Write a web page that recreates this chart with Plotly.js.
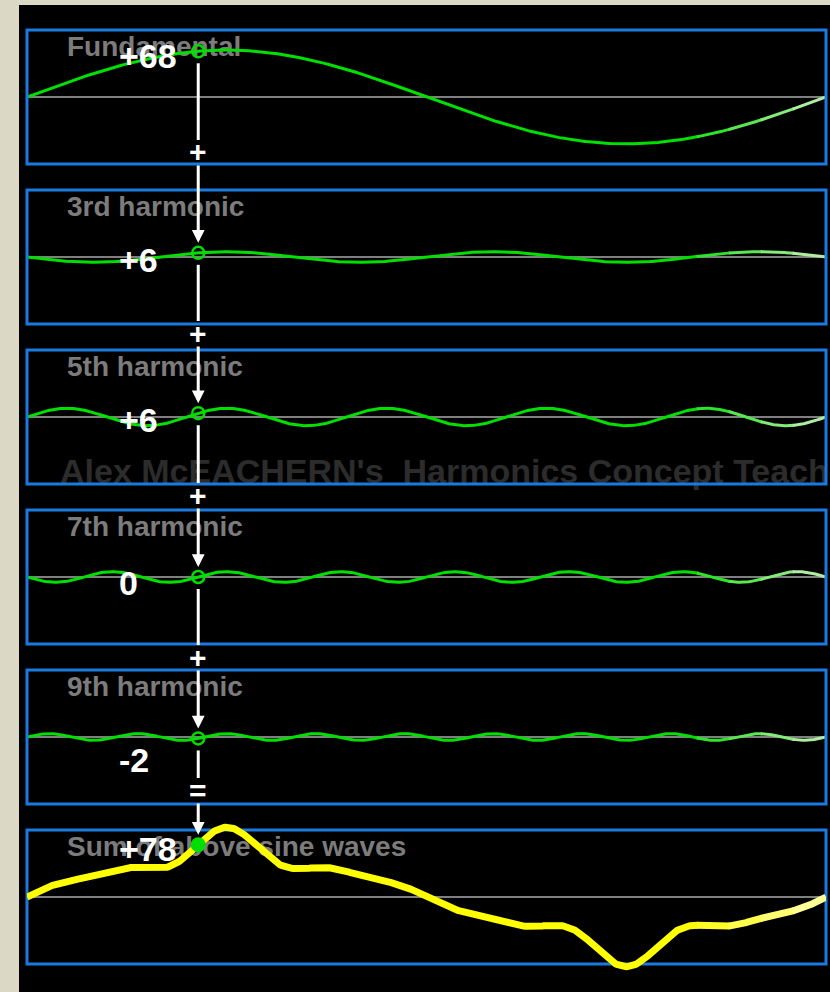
<!DOCTYPE html>
<html><head><meta charset="utf-8">
<script src="https://cdn.plot.ly/plotly-3.0.1.min.js"></script>
<style>html,body{margin:0;padding:0;background:#DCD8C6;overflow:hidden}#chart{width:830px;height:992px}</style>
</head><body><div id="chart"></div>
<script>
// ---------------- data ----------------
const panelTitles = ['Fundamental', '3rd harmonic', '5th harmonic', '7th harmonic', '9th harmonic', 'Sum of above sine waves'];
const harmonicOrders = [1, 3, 5, 7, 9];
const harmonicAmplitudes = [70, 8, 13, 8, 5];      // percent of panel half-height
const harmonicPhasesDeg = [0, 180, 0, 180, 0];     // phase relative to fundamental
const cursorPosition = 0.2143;                     // fraction of one fundamental cycle
const separatorSigns = ['+', '+', '+', '+', '='];
const watermarkText = "Alex McEACHERN's  Harmonics Concept Teacher";
const sampleCount = 601;

// ---------------- layout geometry (pixels) ----------------
const W = 830, H = 992;
const PX_L = 27, PX_R = 826;
const TOP0 = 30, PITCH = 160, PANEL_H = 134;
const UNIT = 0.67;             // px per unit
const YR = 115;                // axis half range (units)
const sepY = [152, 333, 495, 657, 790];
const valueLabelY = [56, 260, 420, 583, 760, 849];
const FONT = 'Liberation Sans, Arial, sans-serif';

const GREEN = [0, 224, 0], GREEN_PALE = [175, 238, 160];
const YELLOW = [255, 255, 0], YELLOW_PALE = [255, 255, 150];

const px = x => x / W;
const py = y => 1 - y / H;
const topOf = k => TOP0 + PITCH * k;
const ctrOf = k => topOf(k) + PANEL_H / 2;
const pixOfVal = (k, v) => ctrOf(k) - v * UNIT;

function harmonic(i, t) {
  return harmonicAmplitudes[i] * Math.sin(2 * Math.PI * harmonicOrders[i] * t + harmonicPhasesDeg[i] * Math.PI / 180);
}
const tSamples = Array.from({length: sampleCount}, (_, i) => i / (sampleCount - 1));
const waves = harmonicOrders.map((_, i) => tSamples.map(t => harmonic(i, t)));
waves.push(tSamples.map((_, j) => waves.reduce((s, w) => s + w[j], 0)));
const cursorValues = harmonicOrders.map((_, i) => harmonic(i, cursorPosition));
cursorValues.push(cursorValues.reduce((a, b) => a + b, 0));
const fmt = v => { const r = Math.round(v); return r === 0 ? '0' : (r > 0 ? '+' + r : String(r)); };

const yId = k => (k === 0 ? 'y' : 'y' + (k + 1));
const yKey = k => (k === 0 ? 'yaxis' : 'yaxis' + (k + 1));

const mix = (a, b, f) => 'rgb(' + a.map((c, i) => Math.round(c + (b[i] - c) * f)).join(',') + ')';
const fadeBreaks = [0, 0.84, 0.88, 0.92, 0.96, 1.0001];

const traces = [];
const layout = {
  width: W, height: H, margin: {l: 0, r: 0, t: 0, b: 0},
  paper_bgcolor: '#DCD8C6', plot_bgcolor: 'rgba(0,0,0,0)',
  showlegend: false, hovermode: false,
  xaxis: {domain: [px(PX_L), px(PX_R)], range: [0, 1], visible: false, fixedrange: true},
  shapes: [], annotations: []
};

layout.shapes.push({type: 'rect', xref: 'paper', yref: 'paper', x0: px(19), x1: 1, y0: 0, y1: py(5),
  fillcolor: '#000000', line: {width: 0}, layer: 'below'});

for (let k = 0; k < 6; k++) {
  const c = ctrOf(k);
  layout[yKey(k)] = {
    domain: [py(c + YR * UNIT), py(c - YR * UNIT)], range: [-YR, YR], anchor: 'x',
    showgrid: false, showticklabels: false, ticks: '', showline: false,
    zeroline: true, zerolinecolor: '#7f7f7f', zerolinewidth: 2, fixedrange: true
  };
  // panel title (drawn under the wave)
  traces.push({type: 'scatter', mode: 'text', xaxis: 'x', yaxis: yId(k),
    x: [(67 - PX_L) / (PX_R - PX_L)], y: [(c - (topOf(k) + 19)) / UNIT],
    text: [panelTitles[k]], textposition: 'middle right', cliponaxis: false,
    textfont: {family: FONT, size: 28, color: '#7c7c7c', weight: 700}, hoverinfo: 'skip'});
  if (k === 2) {
    traces.push({type: 'scatter', mode: 'text', xaxis: 'x', yaxis: yId(k),
      x: [(60 - PX_L) / (PX_R - PX_L)], y: [(c - 475) / UNIT],
      text: [watermarkText], textposition: 'middle right', cliponaxis: false,
      textfont: {family: FONT, size: 34, color: '#2c2c2c', weight: 700}, hoverinfo: 'skip'});
  }
  // waveform, fading to a paler colour at the right end
  const isSum = k === 5;
  const base = isSum ? YELLOW : GREEN, pale = isSum ? YELLOW_PALE : GREEN_PALE;
  for (let s = 0; s < fadeBreaks.length - 1; s++) {
    const xs = [], ys = [];
    tSamples.forEach((t, j) => { if (t >= fadeBreaks[s] - 0.002 && t <= fadeBreaks[s + 1]) { xs.push(t); ys.push(waves[k][j]); } });
    traces.push({type: 'scatter', mode: 'lines', xaxis: 'x', yaxis: yId(k), x: xs, y: ys,
      line: {color: mix(base, pale, s / (fadeBreaks.length - 2)), width: isSum ? 7 : 3}, hoverinfo: 'skip', cliponaxis: false});
  }
  // cursor marker
  traces.push({type: 'scatter', mode: 'markers', xaxis: 'x', yaxis: yId(k),
    x: [cursorPosition], y: [cursorValues[k]], cliponaxis: false,
    marker: isSum ? {symbol: 'circle', size: 15, color: '#00dd00'}
                  : {symbol: 'circle-open', size: 12, color: '#00dd00', line: {width: 2.5, color: '#00dd00'}},
    hoverinfo: 'skip'});

  // value label
  layout.annotations.push({xref: 'paper', yref: 'paper', x: px(117), y: py(valueLabelY[k]),
    xanchor: 'left', yanchor: 'middle', text: fmt(cursorValues[k]), showarrow: false,
    font: {family: FONT, size: 34, color: '#ffffff', weight: 700}});
}

// panel borders (sum panel border sits under the yellow trace)
for (let k = 0; k < 6; k++) {
  layout.shapes.push({type: 'rect', xref: 'paper', yref: 'paper',
    x0: px(PX_L), x1: px(PX_R), y0: py(topOf(k) + PANEL_H), y1: py(topOf(k)),
    line: {color: '#1a7ae2', width: 3}, fillcolor: 'rgba(0,0,0,0)', layer: k === 5 ? 'below' : 'above'});
}

// cursor line, separators, arrows
for (let k = 0; k < 5; k++) {
  const pk = pixOfVal(k, cursorValues[k]);
  layout.shapes.push({type: 'line', xref: 'x', yref: 'paper', x0: cursorPosition, x1: cursorPosition,
    y0: py(pk + 12), y1: py(sepY[k] - 12), line: {color: '#ffffff', width: 3}, layer: 'above'});
  layout.annotations.push({xref: 'x', yref: 'paper', x: cursorPosition, y: py(sepY[k]),
    xanchor: 'center', yanchor: 'middle', text: separatorSigns[k], showarrow: false,
    font: {family: FONT, size: 30, color: '#ffffff', weight: 700}});
  const pn = pixOfVal(k + 1, cursorValues[k + 1]);
  layout.annotations.push({xref: 'x', yref: yId(k + 1), x: cursorPosition, y: cursorValues[k + 1],
    text: '', showarrow: true, ax: 0, ay: (sepY[k] + 12) - pn, standoff: 10,
    arrowhead: 2, arrowsize: 0.85, arrowwidth: 3, arrowcolor: '#ffffff'});
}

Plotly.newPlot('chart', traces, layout, {staticPlot: true, displayModeBar: false});
</script>
</body></html>
